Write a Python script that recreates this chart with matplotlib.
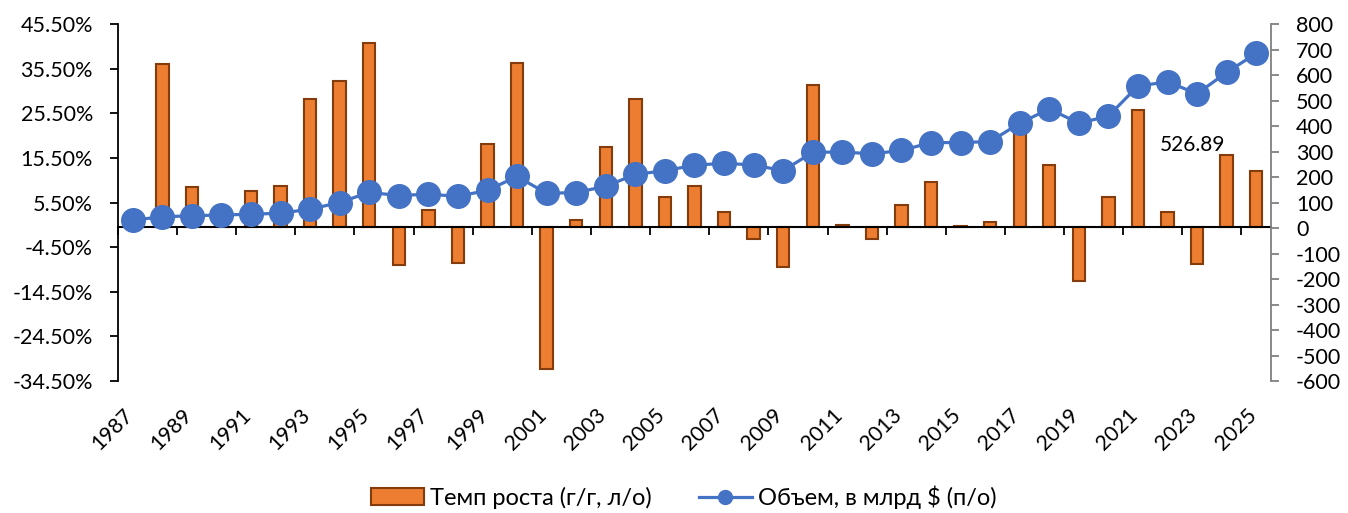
import numpy as np
import matplotlib
matplotlib.use("Agg")
import matplotlib.pyplot as plt
import matplotlib.transforms as mtransforms
from matplotlib.patches import Patch
from matplotlib.lines import Line2D

plt.rcParams['font.family'] = ['Lato', 'DejaVu Sans']
plt.rcParams['axes.unicode_minus'] = False

# данные
years = list(range(1987, 2026))
growth = [np.nan, 36.6, 8.9, 2.0, 8.0, 9.1, 28.6, 32.7, 41.3, -8.4,
          3.8, -8.0, 18.7, 36.8, -31.8, 1.6, 17.9, 28.6, 6.7, 9.3,
          3.3, -2.6, -8.9, 31.9, 0.5, -2.6, 4.9, 10.0, 0.2, 1.2,
          21.5, 13.9, -12.1, 6.8, 26.3, 3.4, -8.2, 16.2, 12.5]
volume = [31, 44, 48, 51, 54, 58, 74, 100, 140, 127,
          133, 124, 148, 202, 136, 139, 164, 210, 225, 246,
          254, 247, 225, 297, 298, 291, 304, 335, 335, 339,
          411, 467, 411, 439, 557, 573, 526.89, 610, 685]
left_ticks = np.arange(-34.5, 46, 10)
right_ticks = np.arange(-600, 801, 100)

bar_color = '#ED7D31'
bar_edge = '#843C0C'
line_color = '#4472C4'

x = np.arange(len(years))

fig = plt.figure(figsize=(13.48, 5.13), dpi=100)
ax = fig.add_axes([0.0875, 0.2573, 0.8554, 0.6959])

ax.bar(x, growth, width=0.42, color=bar_color, edgecolor=bar_edge, linewidth=1.5, zorder=2)
ax.set_xlim(-0.5, len(years) - 0.5)
ax.set_ylim(-34.5, 45.5)
ax.set_yticks(left_ticks)
ax.set_yticklabels(['{:.2f}%'.format(v) for v in left_ticks])
ax.tick_params(axis='y', length=6, width=1.3, pad=12, labelsize=15.5, direction='out')

# нулевая линия с засечками через каждые 2 года
ax.spines['bottom'].set_position(('data', 0))
ax.spines['bottom'].set_linewidth(1.5)
ax.spines['left'].set_linewidth(1.3)
ax.spines['top'].set_visible(False)
ax.spines['right'].set_visible(False)
ax.set_xticks(np.arange(-0.5, len(years) - 1, 2))
ax.tick_params(axis='x', length=6, width=1.3, labelbottom=False, direction='out')

# подписи годов внизу
sec = ax.secondary_xaxis('bottom')
sec.set_xticks(x[::2], labels=[str(y) for y in years[::2]])
sec.tick_params(length=0, pad=17, labelsize=15.3)
shift = mtransforms.ScaledTranslation(4 / 100, 0, fig.dpi_scale_trans)
for lab in sec.get_xticklabels():
    lab.set_rotation(45)
    lab.set_ha('right')
    lab.set_transform(lab.get_transform() + shift)
sec.spines['bottom'].set_visible(False)

ax2 = ax.twinx()
ax2.plot(x, volume, color=line_color, linewidth=2.3, marker='o', markersize=17, zorder=3)
ax2.set_ylim(-600, 800)
ax2.set_yticks(right_ticks)
ax2.tick_params(axis='y', length=6, width=1.3, pad=12, labelsize=15.5, color='#808080')
ax2.spines['right'].set_color('#808080')
ax2.spines['right'].set_linewidth(1.3)
for s in ['top', 'bottom', 'left']:
    ax2.spines[s].set_visible(False)

i = years.index(2023)
ax2.annotate('{:.2f}'.format(volume[i]), (x[i], volume[i]), xytext=(-3, -37),
             textcoords='offset points', ha='center', va='center', fontsize=15)

handles = [Patch(facecolor=bar_color, edgecolor=bar_edge, linewidth=1.5),
           Line2D([], [], color=line_color, linewidth=2.3, marker='o', markersize=10)]
fig.legend(handles, ['Темп роста (г/г, л/о)', 'Объем, в млрд $ (п/о)'],
           loc='center', bbox_to_anchor=(0.507, 0.031), ncol=2, frameon=False,
           fontsize=17, handlelength=2.25, columnspacing=2.0, handletextpad=0.25)

fig.savefig('out.png', dpi=100)
